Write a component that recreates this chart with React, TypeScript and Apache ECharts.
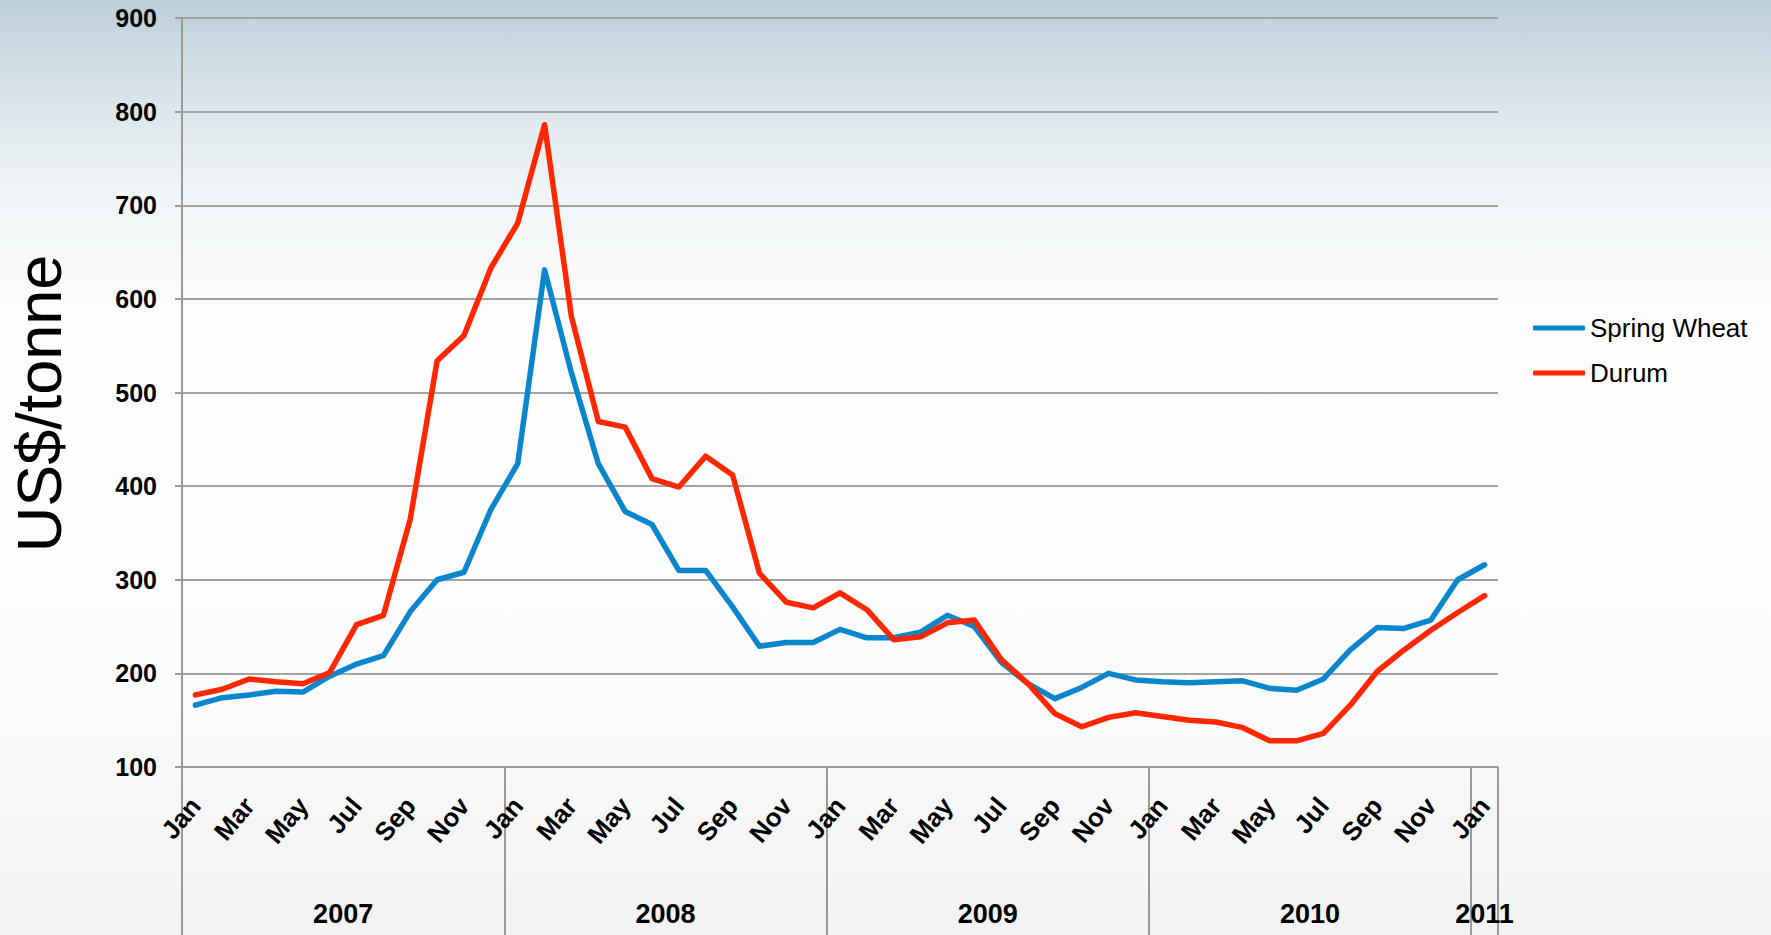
import React, { useEffect, useRef } from "react";
import * as echarts from "echarts";

const MONTHS = ["Jan", "Feb", "Mar", "Apr", "May", "Jun", "Jul", "Aug", "Sep", "Oct", "Nov", "Dec"];
const YEARS = ["2007", "2008", "2009", "2010", "2011"];
const Y_TICKS = { min: 100, max: 900, interval: 100 };

const SPRING_WHEAT = [
  166, 174, 177, 181, 180, 197, 210, 219, 266, 300, 308, 375,
  424, 631, 521, 424, 373, 359, 310, 310, 271, 229, 233, 233,
  247, 238, 238, 244, 262, 250, 212, 189, 173, 185, 200, 193,
  191, 190, 191, 192, 184, 182, 194, 225, 249, 248, 257, 300,
  316,
];
const DURUM = [
  177, 183, 194, 191, 189, 201, 252, 262, 365, 534, 561, 633,
  681, 786, 581, 469, 463, 408, 399, 432, 412, 307, 276, 270,
  286, 268, 236, 239, 254, 257, 215, 189, 157, 143, 153, 158,
  154, 150, 148, 142, 128, 128, 136, 166, 202, 225, 246, 265,
  283,
];

// month categories: Jan 2007 .. Jan 2011
const monthCats: string[] = [];
YEARS.forEach((y, yi) => {
  MONTHS.forEach((m, mi) => {
    if (yi < YEARS.length - 1 || mi === 0) monthCats.push(m);
  });
});
const N = monthCats.length; // 49

// half-slot axis for year group labels & separators (boundaryGap false, 2N+1 points)
const halfSlots: string[] = [];
const halfLabels: string[] = [];
for (let i = 0; i <= 2 * N; i++) {
  halfSlots.push("s" + i);
  halfLabels.push("");
}
YEARS.forEach((y, yi) => {
  const start = yi * 12;
  const len = Math.min(12, N - start);
  halfLabels[2 * start + len] = y;
});
const isSeparator = (i: number) => (i % 24 === 0 && i / 2 <= N) || i === 2 * N;

const FONT = "'Liberation Sans', Arial, Helvetica, sans-serif";

export default function App() {
  const ref = useRef<HTMLDivElement>(null);
  useEffect(() => {
    document.body.style.margin = "0";
    const chart = echarts.init(ref.current!, undefined, { renderer: "svg" });
    chart.setOption({
      animation: false,
      backgroundColor: {
        type: "linear",
        x: 0, y: 0, x2: 0, y2: 1,
        colorStops: [
          { offset: 0, color: "#bccfd9" },
          { offset: 0.08, color: "#d4e0e7" },
          { offset: 0.2, color: "#eff4f6" },
          { offset: 0.35, color: "#fdfdfd" },
          { offset: 0.75, color: "#fbfbfb" },
          { offset: 1, color: "#f2f2f2" },
        ],
      },
      grid: {
        left: 182,
        right: 273,
        top: 18,
        bottom: 168,
        containLabel: false,
        outerBoundsMode: "none",
      },
      legend: {
        orient: "vertical",
        left: 1533,
        top: 313,
        padding: 0,
        icon: "roundRect",
        itemWidth: 52,
        itemHeight: 5,
        itemGap: 15,
        textStyle: { fontFamily: FONT, fontSize: 26, color: "#000", lineHeight: 30 },
        data: ["Spring Wheat", "Durum"],
      },
      xAxis: [
        {
          type: "category",
          data: monthCats,
          boundaryGap: true,
          position: "bottom",
          axisLine: { show: true, lineStyle: { color: "#9a9a9a", width: 2 } },
          axisTick: { show: false },
          axisLabel: {
            interval: 1,
            rotate: 50,
            margin: 34,
            fontFamily: FONT,
            fontWeight: "bold",
            fontSize: 26,
            color: "#000",
          },
          splitLine: { show: false },
        },
        {
          type: "category",
          data: halfSlots,
          boundaryGap: false,
          position: "bottom",
          axisLine: { show: false },
          axisTick: {
            show: true,
            length: 168,
            interval: (i: number) => isSeparator(i),
            lineStyle: { color: "#9a9a9a", width: 2 },
          },
          axisLabel: {
            interval: (i: number) => halfLabels[i] !== "",
            formatter: (_v: string, i: number) => halfLabels[i],
            margin: 133,
            fontFamily: FONT,
            fontWeight: "bold",
            fontSize: 27,
            color: "#000",
          },
          splitLine: { show: false },
        },
      ],
      yAxis: {
        type: "value",
        min: Y_TICKS.min,
        max: Y_TICKS.max,
        interval: Y_TICKS.interval,
        name: "US$/tonne",
        nameLocation: "middle",
        nameRotate: 90,
        nameGap: 112,
        nameTextStyle: { fontFamily: FONT, fontSize: 63, color: "#000", padding: [0, 22, 0, 0] },
        axisLine: { show: true, lineStyle: { color: "#9a9a9a", width: 2 } },
        axisTick: { show: true, length: 7, lineStyle: { color: "#9a9a9a", width: 2 } },
        axisLabel: {
          margin: 25,
          fontFamily: FONT,
          fontWeight: "bold",
          fontSize: 25,
          color: "#000",
        },
        splitLine: { show: true, lineStyle: { color: "#a3a3a3", width: 2 } },
      },
      series: [
        {
          name: "Spring Wheat",
          type: "line",
          xAxisIndex: 0,
          data: SPRING_WHEAT,
          symbol: "none",
          lineStyle: { color: "#0a87cc", width: 5.5, cap: "round", join: "round" },
          itemStyle: { color: "#0a87cc" },
        },
        {
          name: "Durum",
          type: "line",
          xAxisIndex: 0,
          data: DURUM,
          symbol: "none",
          lineStyle: { color: "#ff2600", width: 5.5, cap: "round", join: "round" },
          itemStyle: { color: "#ff2600" },
        },
      ],
    });
    return () => chart.dispose();
  }, []);
  return (
    <div
      ref={ref}
      style={{ position: "absolute", left: 0, top: 0, width: 1771, height: 935 }}
    />
  );
}
